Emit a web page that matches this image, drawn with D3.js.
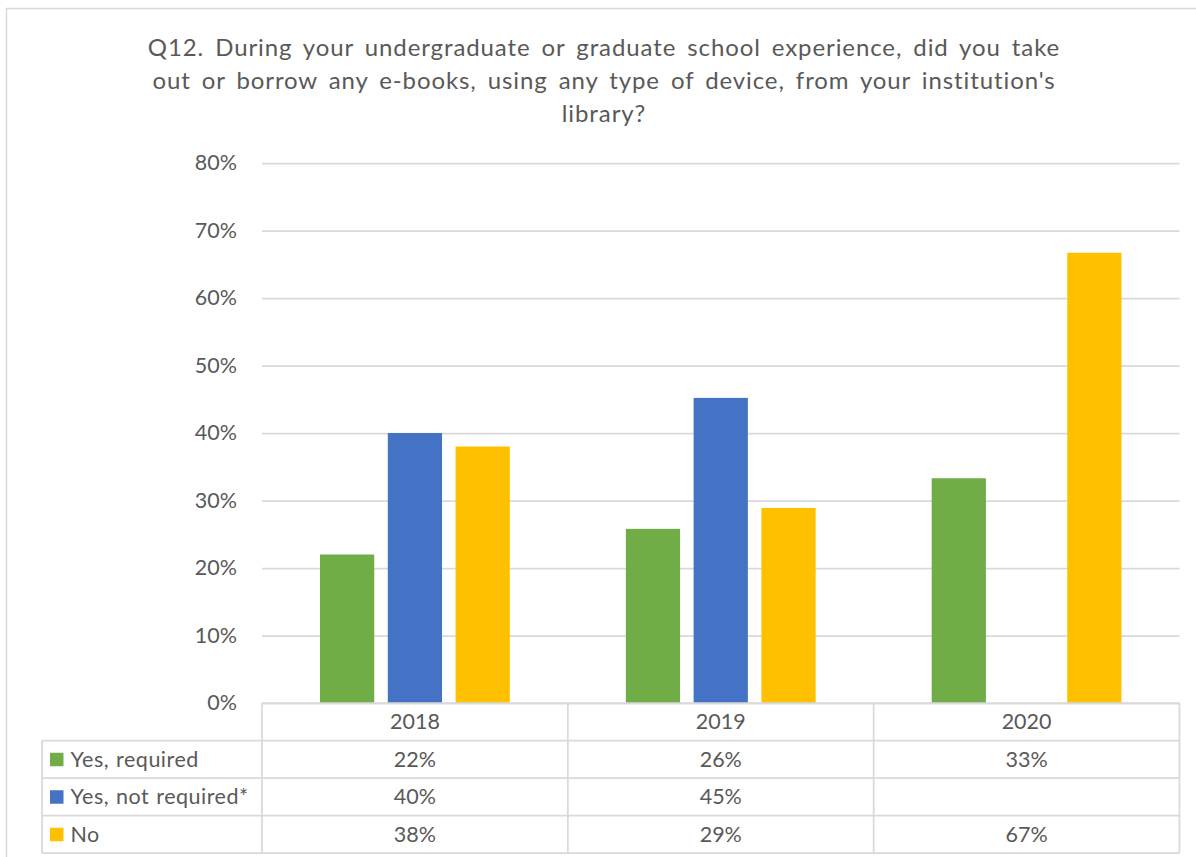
<!DOCTYPE html>
<html>
<head>
<meta charset="utf-8">
<script src="https://cdn.jsdelivr.net/npm/d3@7"></script>
<style>
  body { margin: 0; background: #fff; }
  text { font-family: Lato, "Open Sans", sans-serif; fill: #595959; }
</style>
</head>
<body>
<div id="chart"></div>
<script>
// chart data
var years = ["2018", "2019", "2020"];
var seriesNames = ["Yes, required", "Yes, not required*", "No"];
var yesRequired = [0.22, 0.258, 0.333];
var yesNotRequired = [0.40, 0.452, null];
var no = [0.38, 0.289, 0.667];
var seriesColors = ["#70ad47", "#4472c4", "#ffc000"];
var yTicks = [0, 0.1, 0.2, 0.3, 0.4, 0.5, 0.6, 0.7, 0.8];
var titleLines = [
  "Q12. During your undergraduate or graduate school experience, did you take",
  "out or borrow any e-books, using any type of device, from your institution's",
  "library?"
];

var seriesValues = [yesRequired, yesNotRequired, no];

// Set the dimensions of the canvas
var W = 1196, H = 857;
var plot = {left: 262, right: 1179.5, top: 163, bottom: 703};
var rowH = 37.5;
var tableLeft = 42;
var gridColor = "#d9d9d9";
var fontSize = "21.5px";

var svg = d3.select("#chart").append("svg")
  .attr("width", W)
  .attr("height", H);

// chart area border (right/bottom edges fall outside the picture)
svg.append("rect")
  .attr("x", 6.5).attr("y", 8.5)
  .attr("width", W + 20).attr("height", H + 20)
  .attr("fill", "#fff")
  .attr("stroke", gridColor)
  .attr("stroke-width", 1.5);

// Title - excel spreads the words out, so widen the gaps
svg.append("g").selectAll("text")
  .data(titleLines)
  .enter().append("text")
  .attr("x", 604)
  .attr("y", function(d, i) { return 55.5 + i * 33; })
  .attr("text-anchor", "middle")
  .style("font-size", "24px")
  .style("letter-spacing", "0.9px")
  .style("word-spacing", "4px")
  .text(function(d) { return d; });

// Scales
var yScale = d3.scaleLinear().domain([0, 0.8]).range([plot.bottom, plot.top]);
var x0 = d3.scaleBand().domain(years).range([plot.left, plot.right]).padding(0);
var x1 = d3.scaleBand().domain(d3.range(seriesNames.length))
  .range([0, x0.bandwidth()])
  .paddingInner(0.2)
  .paddingOuter(0.856);

// Gridlines
var grid = svg.append("g")
  .attr("transform", "translate(" + plot.left + ",0)")
  .call(d3.axisRight(yScale).tickValues(yTicks).tickSize(plot.right - plot.left).tickFormat(""));
grid.select(".domain").remove();
grid.selectAll("line").attr("stroke", gridColor).attr("stroke-width", 1.75);

// Y Axis labels
var yAxis = svg.append("g")
  .attr("transform", "translate(" + plot.left + ",0)")
  .call(d3.axisLeft(yScale).tickValues(yTicks).tickSize(0).tickPadding(25).tickFormat(d3.format(".0%")));
yAxis.select(".domain").remove();
yAxis.selectAll("text")
  .style("font-size", fontSize)
  .style("font-family", "Lato, sans-serif")
  .attr("fill", "#595959");

// Bars
var groups = svg.append("g").selectAll("g")
  .data(years)
  .enter().append("g")
  .attr("transform", function(d) { return "translate(" + x0(d) + ",0)"; });

groups.selectAll("rect")
  .data(function(d, i) {
    return seriesValues.map(function(vals, s) { return {s: s, v: vals[i]}; })
      .filter(function(e) { return e.v != null; });
  })
  .enter().append("rect")
  .attr("x", function(d) { return x1(d.s); })
  .attr("width", x1.bandwidth())
  .attr("y", function(d) { return yScale(d.v); })
  .attr("height", function(d) { return plot.bottom - yScale(d.v); })
  .attr("fill", function(d) { return seriesColors[d.s]; });

// Data table
var table = svg.append("g");
var tableBottom = plot.bottom + rowH * (seriesNames.length + 1);

// horizontal lines
var hLines = d3.range(seriesNames.length + 2).map(function(i) { return plot.bottom + i * rowH; });
table.selectAll(".hline")
  .data(hLines)
  .enter().append("line")
  .attr("class", "hline")
  .attr("x1", function(d, i) { return i == 0 ? plot.left : tableLeft; })
  .attr("x2", plot.right)
  .attr("y1", function(d) { return d; })
  .attr("y2", function(d) { return d; })
  .attr("stroke", gridColor)
  .attr("stroke-width", 1.75);

// vertical lines
var vLines = [plot.left].concat(years.map(function(y) { return x0(y) + x0.bandwidth(); }));
table.selectAll(".vline")
  .data(vLines)
  .enter().append("line")
  .attr("class", "vline")
  .attr("x1", function(d) { return d; })
  .attr("x2", function(d) { return d; })
  .attr("y1", plot.bottom)
  .attr("y2", tableBottom)
  .attr("stroke", gridColor)
  .attr("stroke-width", 1.75);
table.append("line")
  .attr("x1", tableLeft).attr("x2", tableLeft)
  .attr("y1", plot.bottom + rowH).attr("y2", tableBottom)
  .attr("stroke", gridColor)
  .attr("stroke-width", 1.75);

// header (years)
table.selectAll(".year")
  .data(years)
  .enter().append("text")
  .attr("class", "year")
  .attr("x", function(d) { return x0(d) + x0.bandwidth() / 2; })
  .attr("y", plot.bottom + rowH / 2)
  .attr("dy", "0.35em")
  .attr("text-anchor", "middle")
  .style("font-size", fontSize)
  .text(function(d) { return d; });

// rows
var fmt = d3.format(".0%");
var rows = table.selectAll(".row")
  .data(seriesNames)
  .enter().append("g")
  .attr("class", "row")
  .attr("transform", function(d, i) { return "translate(0," + (plot.bottom + rowH * (i + 1)) + ")"; });

rows.append("rect")
  .attr("x", 50)
  .attr("y", rowH / 2 - 6.5)
  .attr("width", 13.5)
  .attr("height", 13.5)
  .attr("fill", function(d, i) { return seriesColors[i]; });

rows.append("text")
  .attr("x", 70.5)
  .attr("y", rowH / 2)
  .attr("dy", "0.35em")
  .style("font-size", fontSize)
  .style("letter-spacing", "0.5px")
  .style("word-spacing", "1px")
  .text(function(d) { return d; });

rows.each(function(name, s) {
  d3.select(this).selectAll(".cell")
    .data(years)
    .enter().append("text")
    .attr("class", "cell")
    .attr("x", function(d) { return x0(d) + x0.bandwidth() / 2; })
    .attr("y", rowH / 2)
    .attr("dy", "0.35em")
    .attr("text-anchor", "middle")
    .style("font-size", fontSize)
    .text(function(d, i) { return seriesValues[s][i] == null ? "" : fmt(seriesValues[s][i]); });
});
</script>
</body>
</html>
